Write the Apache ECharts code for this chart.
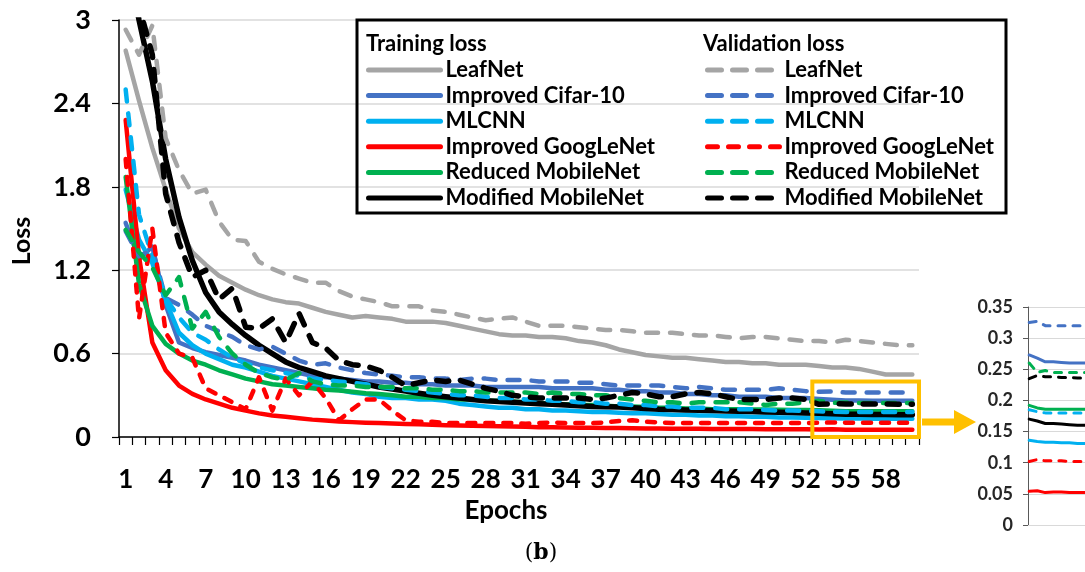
<!DOCTYPE html>
<html>
<head>
<meta charset="utf-8">
<title>Training and validation loss</title>
<script src="https://cdn.jsdelivr.net/npm/echarts@6/dist/echarts.min.js"></script>
<style>
  html, body { margin: 0; padding: 0; background: #ffffff; }
  #chart { width: 1085px; height: 572px; }
</style>
</head>
<body>
<div id="chart"></div>
<script>
// ---- data ----------------------------------------------------------------
const epochs = ['1','2','3','4','5','6','7','8','9','10','11','12','13','14','15','16','17','18','19','20',
  '21','22','23','24','25','26','27','28','29','30','31','32','33','34','35','36','37','38','39','40',
  '41','42','43','44','45','46','47','48','49','50','51','52','53','54','55','56','57','58','59','60'];

const lossTicks = [0, 0.6, 1.2, 1.8, 2.4, 3];
const zoomTicks = [0, 0.05, 0.1, 0.15, 0.2, 0.25, 0.3, 0.35];
const zoomFirstEpoch = 53;   // first epoch shown in the enlarged view
const zoomBoxTop = 0.4;      // height of the highlighted region

const modelNames = ['LeafNet', 'Improved Cifar-10', 'MLCNN', 'Improved GoogLeNet', 'Reduced MobileNet', 'Modified MobileNet'];

const leafNetTrain = [2.78,2.42,2.08,1.78,1.5,1.33,1.24,1.16,1.11,1.06, 1.02,0.99,0.97,0.96,0.93,0.9,0.88,0.86,0.87,0.86,
  0.85,0.83,0.83,0.83,0.82,0.8,0.78,0.76,0.74,0.73, 0.73,0.72,0.72,0.71,0.69,0.68,0.66,0.63,0.61,0.59,
  0.58,0.57,0.57,0.56,0.55,0.54,0.54,0.53,0.53,0.52, 0.52,0.52,0.51,0.5,0.5,0.49,0.47,0.45,0.45,0.45];
const leafNetVal = [2.93,2.75,2.96,2.15,1.92,1.75,1.78,1.55,1.42,1.41, 1.26,1.21,1.17,1.14,1.11,1.11,1.05,1.01,0.99,0.97,
  0.94,0.94,0.94,0.91,0.9,0.88,0.86,0.84,0.85,0.86, 0.83,0.8,0.8,0.8,0.79,0.78,0.77,0.77,0.76,0.75,
  0.75,0.75,0.74,0.73,0.73,0.72,0.71,0.72,0.72,0.71, 0.7,0.69,0.69,0.68,0.7,0.69,0.68,0.67,0.66,0.66];

const cifarTrain = [1.54,1.28,1.37,0.95,0.68,0.64,0.61,0.59,0.57,0.55, 0.52,0.5,0.48,0.46,0.44,0.43,0.42,0.41,0.4,0.4,
  0.39,0.39,0.38,0.38,0.37,0.37,0.37,0.36,0.36,0.36, 0.36,0.36,0.35,0.35,0.35,0.35,0.34,0.34,0.33,0.33,
  0.32,0.32,0.31,0.31,0.3,0.3,0.29,0.29,0.29,0.28, 0.28,0.28,0.273,0.268,0.262,0.262,0.261,0.26,0.26,0.26];
const cifarVal = [1.48,1.3,1.35,1.0,0.95,0.88,0.8,0.76,0.72,0.66, 0.63,0.65,0.6,0.55,0.52,0.53,0.5,0.48,0.46,0.45,
  0.44,0.43,0.43,0.42,0.42,0.41,0.42,0.42,0.41,0.41, 0.41,0.4,0.4,0.4,0.39,0.39,0.38,0.37,0.37,0.37,
  0.37,0.36,0.35,0.36,0.35,0.34,0.34,0.34,0.34,0.35, 0.34,0.33,0.325,0.327,0.32,0.32,0.32,0.32,0.32,0.32];

const mlcnnTrain = [1.78,1.42,1.25,0.98,0.75,0.66,0.6,0.56,0.52,0.5, 0.47,0.44,0.42,0.4,0.38,0.36,0.34,0.32,0.31,0.29,
  0.28,0.28,0.27,0.27,0.26,0.24,0.23,0.22,0.21,0.21, 0.2,0.2,0.19,0.19,0.185,0.18,0.18,0.175,0.17,0.17,
  0.165,0.16,0.16,0.155,0.155,0.15,0.15,0.145,0.145,0.14, 0.14,0.138,0.136,0.134,0.133,0.133,0.132,0.132,0.131,0.131];
const mlcnnVal = [2.5,1.6,1.3,1.0,0.86,0.75,0.7,0.63,0.57,0.53, 0.5,0.48,0.46,0.44,0.42,0.41,0.4,0.39,0.38,0.36,
  0.35,0.34,0.33,0.32,0.31,0.3,0.3,0.29,0.28,0.28, 0.27,0.27,0.26,0.26,0.25,0.25,0.24,0.24,0.23,0.23,
  0.22,0.22,0.21,0.21,0.21,0.2,0.2,0.2,0.195,0.19, 0.19,0.188,0.185,0.182,0.18,0.18,0.18,0.18,0.18,0.18];

const googLeNetTrain = [2.28,1.3,0.68,0.48,0.37,0.31,0.27,0.24,0.21,0.19, 0.17,0.155,0.145,0.135,0.125,0.118,0.112,0.107,0.103,0.1,
  0.097,0.094,0.091,0.088,0.085,0.083,0.081,0.079,0.077,0.075, 0.073,0.071,0.07,0.068,0.067,0.066,0.065,0.064,0.063,0.062,
  0.061,0.06,0.06,0.059,0.058,0.058,0.057,0.057,0.056,0.056, 0.055,0.055,0.054,0.055,0.052,0.053,0.053,0.052,0.052,0.052];
const googLeNetVal = [2.0,0.85,1.5,0.75,0.6,0.57,0.35,0.3,0.25,0.2, 0.43,0.19,0.42,0.3,0.4,0.28,0.12,0.2,0.27,0.27,
  0.19,0.12,0.11,0.11,0.1,0.1,0.1,0.1,0.1,0.1, 0.095,0.1,0.105,0.1,0.1,0.1,0.105,0.115,0.12,0.11,
  0.105,0.1,0.1,0.1,0.1,0.1,0.1,0.1,0.1,0.1, 0.1,0.1,0.102,0.105,0.103,0.103,0.103,0.102,0.102,0.102];

const reducedMobileTrain = [1.87,1.1,0.8,0.67,0.6,0.55,0.52,0.48,0.45,0.42, 0.4,0.38,0.37,0.36,0.35,0.34,0.335,0.325,0.315,0.31,
  0.3,0.29,0.29,0.28,0.28,0.27,0.27,0.26,0.26,0.255, 0.25,0.245,0.24,0.235,0.23,0.23,0.225,0.22,0.22,0.215,
  0.21,0.21,0.205,0.205,0.2,0.2,0.2,0.198,0.197,0.196, 0.195,0.194,0.192,0.188,0.186,0.186,0.186,0.186,0.186,0.186];
const reducedMobileVal = [1.49,1.33,1.22,1.02,1.15,0.78,0.9,0.72,0.6,0.52, 0.46,0.43,0.41,0.46,0.4,0.38,0.37,0.37,0.36,0.36,
  0.36,0.35,0.35,0.34,0.34,0.33,0.33,0.32,0.32,0.32, 0.32,0.31,0.32,0.31,0.31,0.3,0.3,0.28,0.27,0.26,
  0.25,0.25,0.24,0.25,0.25,0.25,0.25,0.24,0.23,0.24, 0.24,0.25,0.26,0.245,0.248,0.245,0.245,0.245,0.245,0.245];

const modifiedMobileTrain = [3.5,3.0,2.56,2.0,1.58,1.27,1.04,0.9,0.81,0.73, 0.66,0.6,0.54,0.5,0.47,0.44,0.42,0.4,0.38,0.36,
  0.345,0.33,0.315,0.3,0.29,0.28,0.27,0.26,0.255,0.25, 0.245,0.24,0.235,0.23,0.225,0.22,0.218,0.215,0.21,0.205,
  0.2,0.198,0.195,0.192,0.19,0.187,0.185,0.183,0.18,0.178, 0.176,0.173,0.17,0.167,0.163,0.163,0.162,0.161,0.16,0.16];
const modifiedMobileVal = [3.3,3.1,2.75,1.75,1.4,1.15,1.2,0.99,1.07,0.79, 0.78,0.85,0.68,0.89,0.68,0.64,0.55,0.52,0.51,0.48,
  0.43,0.37,0.39,0.41,0.4,0.41,0.38,0.35,0.33,0.3, 0.29,0.28,0.28,0.28,0.28,0.27,0.28,0.3,0.32,0.31,
  0.29,0.29,0.31,0.32,0.31,0.29,0.27,0.27,0.27,0.28, 0.28,0.27,0.235,0.24,0.238,0.238,0.237,0.237,0.236,0.236];

// ---- styling ---------------------------------------------------------------
const FONT = 'Lato, "Open Sans", "DejaVu Sans", sans-serif';
const colors = ['#A5A5A5', '#4472C4', '#00B0F0', '#FF0000', '#00B050', '#000000'];
const trainSets = [leafNetTrain, cifarTrain, mlcnnTrain, googLeNetTrain, reducedMobileTrain, modifiedMobileTrain];
const valSets = [leafNetVal, cifarVal, mlcnnVal, googLeNetVal, reducedMobileVal, modifiedMobileVal];
const mainWidths = [4.5, 4.5, 4.5, 4.5, 4.5, 5.5];
const TRAIN = 'Training: ', VAL = 'Validation: ';

function mainSeries(prefix, sets, dashed) {
  return sets.map((values, i) => ({
    name: prefix + modelNames[i],
    type: 'line',
    xAxisIndex: 0, yAxisIndex: 0,
    data: values,
    symbol: 'none',
    clip: true,
    color: colors[i],
    lineStyle: {
      color: colors[i], width: mainWidths[i], cap: 'round', join: 'round',
      type: dashed ? (i === 3 ? [8, 10] : [12, 12]) : 'solid'
    },
    emphasis: { disabled: true },
    z: dashed ? 3 : 2
  }));
}

function zoomSeries(prefix, sets, dashed) {
  return sets.map((values, i) => ({
    name: prefix + modelNames[i],
    type: 'line',
    xAxisIndex: 1, yAxisIndex: 1,
    data: epochs.slice(zoomFirstEpoch - 1).map((e, k) => [Number(e), values[zoomFirstEpoch - 1 + k]]),
    symbol: 'none',
    clip: true,
    color: colors[i],
    lineStyle: {
      color: colors[i], width: 3, cap: 'round', join: 'round',
      type: dashed ? [7, 8] : 'solid'
    },
    emphasis: { disabled: true },
    z: 2
  }));
}

const legendText = { fontFamily: FONT, fontWeight: 'bold', fontSize: 22, color: '#000' };
const stripPrefix = name => name.replace(/^[^:]*: /, '');

const option = {
  animation: false,
  backgroundColor: '#ffffff',
  textStyle: { fontFamily: FONT },
  grid: [
    { left: 119, top: 20, width: 800, height: 417, containLabel: false },
    { left: 1028, top: 307, width: 230, height: 218, containLabel: false }
  ],
  xAxis: [
    {
      type: 'category', gridIndex: 0, data: epochs, boundaryGap: true,
      axisLine: { show: true, lineStyle: { color: '#000', width: 1.5 } },
      axisTick: { show: true, interval: 0, length: 8, lineStyle: { color: '#000', width: 1.2 } },
      axisLabel: { interval: 2, margin: 30, fontSize: 26, fontWeight: 'bold', color: '#000', fontFamily: FONT },
      splitLine: { show: false }
    },
    {
      type: 'value', gridIndex: 1, min: zoomFirstEpoch - 0.15, max: Number(epochs[epochs.length - 1]),
      axisLine: { show: true, lineStyle: { color: '#D9D9D9', width: 1 } },
      axisTick: { show: false }, axisLabel: { show: false }, splitLine: { show: false }
    }
  ],
  yAxis: [
    {
      type: 'value', gridIndex: 0,
      min: lossTicks[0], max: lossTicks[lossTicks.length - 1], interval: lossTicks[1] - lossTicks[0],
      axisLine: { show: true, lineStyle: { color: '#000', width: 1.5 } },
      axisTick: { show: true, length: 7, lineStyle: { color: '#000', width: 1.2 } },
      axisLabel: { margin: 28, fontSize: 27, fontWeight: 'bold', color: '#000', fontFamily: FONT },
      splitLine: { show: true, lineStyle: { color: '#D9D9D9', width: 1.5 } }
    },
    {
      type: 'value', gridIndex: 1,
      min: zoomTicks[0], max: zoomTicks[zoomTicks.length - 1], interval: zoomTicks[1] - zoomTicks[0],
      axisLine: { show: true, lineStyle: { color: '#595959', width: 1 } },
      axisTick: { show: true, length: 5, lineStyle: { color: '#595959', width: 1 } },
      axisLabel: { margin: 15, fontSize: 18, fontWeight: 'bold', color: '#262626', fontFamily: FONT },
      splitLine: { show: true, lineStyle: { color: '#D9D9D9', width: 1 } }
    }
  ],
  legend: [
    {
      data: modelNames.map(n => TRAIN + n),
      orient: 'vertical', left: 366, top: 59, padding: 0,
      itemWidth: 72, itemHeight: 14, itemGap: 3.6,
      selectedMode: false, formatter: stripPrefix,
      textStyle: legendText,
      itemStyle: { opacity: 0 },
      lineStyle: { width: 5, cap: 'round' }
    },
    {
      data: modelNames.map(n => (n === 'Improved GoogLeNet'
        ? { name: VAL + n, lineStyle: { width: 5, cap: 'round', type: [10, 11] } }
        : VAL + n)),
      orient: 'vertical', left: 705, top: 59, padding: 0,
      itemWidth: 72, itemHeight: 14, itemGap: 3.6,
      selectedMode: false, formatter: stripPrefix,
      textStyle: legendText,
      itemStyle: { opacity: 0 },
      lineStyle: { width: 5, cap: 'round', type: [14, 11] }
    }
  ],
  series: [
    ...mainSeries(TRAIN, trainSets, false),
    ...mainSeries(VAL, valSets, true),
    ...zoomSeries(TRAIN, trainSets, false),
    ...zoomSeries(VAL, valSets, true)
  ],
  graphic: [
    { id: 'legendFrame', type: 'rect', z: 10, silent: true,
      shape: { x: 357, y: 20, width: 649, height: 193 },
      style: { fill: 'rgba(255,255,255,0)', stroke: '#000', lineWidth: 3 } },
    { id: 'trainHead', type: 'text', z: 11, silent: true, x: 366, y: 44,
      style: { text: 'Training loss', fill: '#000', font: 'bold 22px ' + FONT, verticalAlign: 'middle' } },
    { id: 'valHead', type: 'text', z: 11, silent: true, x: 703, y: 44,
      style: { text: 'Validation loss', fill: '#000', font: 'bold 22px ' + FONT, verticalAlign: 'middle' } },
    { id: 'yName', type: 'text', z: 11, silent: true, x: 22, y: 241, rotation: Math.PI / 2,
      style: { text: 'Loss', fill: '#000', font: 'bold 25px ' + FONT, align: 'center', verticalAlign: 'middle' } },
    { id: 'xName', type: 'text', z: 11, silent: true, x: 506, y: 511,
      style: { text: 'Epochs', fill: '#000', font: 'bold 26px ' + FONT, align: 'center', verticalAlign: 'middle' } },
    { id: 'panel', type: 'text', z: 11, silent: true, x: 541, y: 553,
      style: { text: '({b|b})', fill: '#000', font: '22px "DejaVu Serif", serif', align: 'center', verticalAlign: 'middle',
        rich: { b: { fontWeight: 'bold', fontSize: 22, fontFamily: '"DejaVu Serif", serif' } } } }
  ]
};

const chart = echarts.init(document.getElementById('chart'), null, { renderer: 'canvas' });
chart.setOption(option);

// Highlight the last epochs (the enlarged region) and point to the inset.
const firstIdx = String(zoomFirstEpoch);
const lastIdx = epochs[epochs.length - 1];
const band = chart.convertToPixel({ xAxisIndex: 0 }, epochs[1]) - chart.convertToPixel({ xAxisIndex: 0 }, epochs[0]);
const boxLeft = chart.convertToPixel({ xAxisIndex: 0 }, firstIdx) - band / 2;
const boxRight = chart.convertToPixel({ xAxisIndex: 0 }, lastIdx) + band / 2;
const boxTop = chart.convertToPixel({ yAxisIndex: 0 }, zoomBoxTop);
const boxBottom = chart.convertToPixel({ yAxisIndex: 0 }, 0);
const arrowY = boxBottom - 15;
const ax = boxRight + 3;

chart.setOption({
  graphic: [
    { id: 'zoomBox', type: 'rect', z: 12, silent: true,
      shape: { x: boxLeft, y: boxTop, width: boxRight - boxLeft, height: boxBottom - boxTop },
      style: { fill: 'rgba(255,255,255,0)', stroke: '#FFC000', lineWidth: 4 } },
    { id: 'zoomArrow', type: 'polygon', z: 12, silent: true,
      shape: { points: [
        [ax, arrowY - 3.5], [ax + 32, arrowY - 3.5], [ax + 32, arrowY - 12], [ax + 54, arrowY],
        [ax + 32, arrowY + 12], [ax + 32, arrowY + 3.5], [ax, arrowY + 3.5]
      ] },
      style: { fill: '#FFC000' } }
  ]
});
</script>
</body>
</html>
